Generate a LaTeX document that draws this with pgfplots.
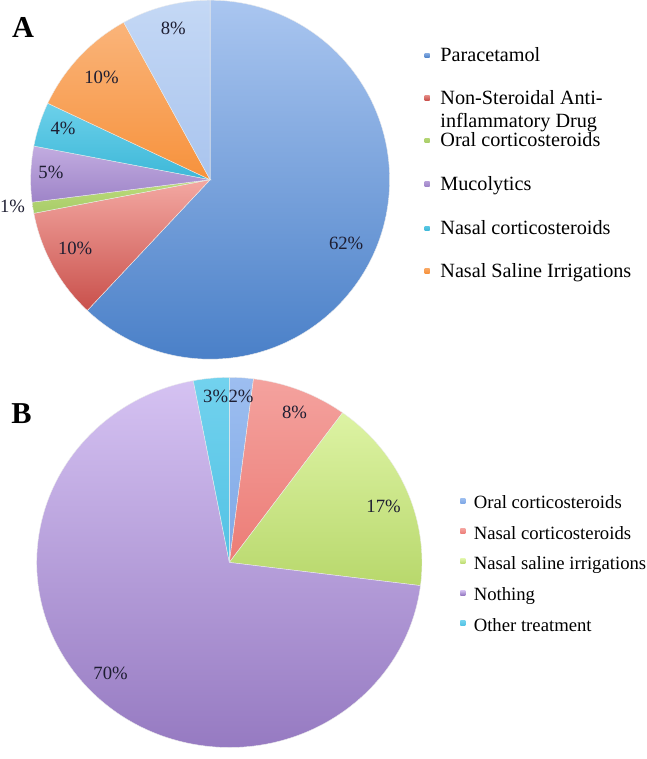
\documentclass[border=0pt]{standalone}
\usepackage{fontspec}
\setmainfont{Liberation Serif}
\usepackage{pgfplots}
\usepackage{pgfplotstable}
\pgfplotsset{compat=1.18}

% slice colours (top / bottom of the gradient)
\definecolor{aBlueT}{HTML}{AAC6F0}\definecolor{aBlueB}{HTML}{4A80C8}
\definecolor{aRedT}{HTML}{F3A8A2}\definecolor{aRedB}{HTML}{C9504B}
\definecolor{aGreenT}{HTML}{BCDC7C}\definecolor{aGreenB}{HTML}{A8CC68}
\definecolor{aPurpT}{HTML}{C2ACE0}\definecolor{aPurpB}{HTML}{9E84C8}
\definecolor{aCyanT}{HTML}{6CD0EA}\definecolor{aCyanB}{HTML}{3DB8D8}
\definecolor{aOrT}{HTML}{FAB47A}\definecolor{aOrB}{HTML}{F7923C}
\definecolor{aLbT}{HTML}{C4D8F5}\definecolor{aLbB}{HTML}{A9C4EE}
\definecolor{bBlueT}{HTML}{9DBEF0}\definecolor{bBlueB}{HTML}{7EA8E6}
\definecolor{bRedT}{HTML}{F4A29E}\definecolor{bRedB}{HTML}{EC7C76}
\definecolor{bGreenT}{HTML}{DDF3A4}\definecolor{bGreenB}{HTML}{B8D86C}
\definecolor{bPurpT}{HTML}{D5C2F2}\definecolor{bPurpB}{HTML}{9478C0}
\definecolor{bCyanT}{HTML}{72D2EE}\definecolor{bCyanB}{HTML}{52C2E4}
\definecolor{lbl}{HTML}{1E1E32}

% A: clockwise from 12 o'clock; lx ly = label position (px)
\pgfplotstableread{
value top     bottom  lx  ly
62    aBlueT  aBlueB  343 245
10    aRedT   aRedB   75  249
1     aGreenT aGreenB 13  208
5     aPurpT  aPurpB  51  174
4     aCyanT  aCyanB  63  131
10    aOrT    aOrB    101 80
8     aLbT    aLbB    172 32
}\pieA

% B
\pgfplotstableread{
value top     bottom  lx  ly
2     bBlueT  bBlueB  239 396
8     bRedT   bRedB   292 412
17    bGreenT bGreenB 380 505
70    bPurpT  bPurpB  110 670
3     bCyanT  bCyanB  214 396
}\pieB

% #1 table, #2 #3 centre, #4 #5 x/y radius
\newcommand\drawpie[5]{%
  \pgfplotstablegetrowsof{#1}%
  \pgfmathtruncatemacro\lastrow{\pgfplotsretval-1}%
  \gdef\cum{0}%
  \foreach \i in {0,...,\lastrow}{%
    \pgfplotstablegetelem{\i}{value}\of{#1}\let\v\pgfplotsretval
    \pgfplotstablegetelem{\i}{top}\of{#1}\let\ct\pgfplotsretval
    \pgfplotstablegetelem{\i}{bottom}\of{#1}\let\cb\pgfplotsretval
    \pgfmathsetmacro\sa{90-3.6*\cum}%
    \pgfmathsetmacro\ea{90-3.6*(\cum+\v)}%
    \shade[top color=\ct, bottom color=\cb, draw=white!85!gray, line width=0.4pt]
      (axis cs:#2,#3) -- ++(\sa:#4pt and #5pt)
      arc[start angle=\sa, end angle=\ea, x radius=#4pt, y radius=#5pt] -- cycle;
    \pgfmathsetmacro\newcum{\cum+\v}\xdef\cum{\newcum}%
  }%
  \foreach \i in {0,...,\lastrow}{%
    \pgfplotstablegetelem{\i}{value}\of{#1}\let\v\pgfplotsretval
    \pgfplotstablegetelem{\i}{lx}\of{#1}\let\lx\pgfplotsretval
    \pgfplotstablegetelem{\i}{ly}\of{#1}\let\ly\pgfplotsretval
    \node[text=lbl, inner sep=0pt, font=\fontsize{18.5}{20}\selectfont]
      at (axis cs:\lx,\ly) {\v\%};
  }%
}

\begin{document}
\begin{tikzpicture}
\begin{axis}[
  scale only axis,
  width=646pt, height=759pt,
  xmin=0, xmax=646, ymin=0, ymax=759,
  y dir=reverse,
  hide axis, clip=false,
]
\pgfplotsextra{%
  \drawpie{\pieA}{208.5}{181.5}{177.5}{177.5}
  \drawpie{\pieB}{227.5}{560}{190.5}{183}
  % panel letters
  \node[anchor=base, inner sep=0pt, font=\fontsize{30}{32}\selectfont\bfseries]
    at (axis cs:23.5,41) {A};
  \node[anchor=base, inner sep=0pt, font=\fontsize{30}{32}\selectfont\bfseries]
    at (axis cs:22,423) {B};
  % legend A
  \foreach \yb/\ct/\cb/\txt in {
      65/aBlueT/aBlueB/Paracetamol,
      107/aRedT/aRedB/Non-Steroidal Anti-,
      149/aGreenT/aGreenB/Oral corticosteroids,
      192/aPurpT/aPurpB/Mucolytics,
      236/aCyanT/aCyanB/Nasal corticosteroids,
      278/aOrT/aOrB/Nasal Saline Irrigations}{%
    \shade[top color=\ct!60!\cb, bottom color=\cb]
      (axis cs:420.5,\yb-8.5) rectangle (axis cs:425.5,\yb-4);
    \node[anchor=base west, inner sep=0pt, font=\fontsize{20}{22}\selectfont]
      at (axis cs:436,\yb) {\txt};
  }
  \node[anchor=base west, inner sep=0pt, font=\fontsize{20}{22}\selectfont]
    at (axis cs:436,130) {inflammatory Drug};
  % legend B
  \foreach \yb/\ct/\cb/\txt in {
      507/bBlueT/bBlueB/Oral corticosteroids,
      537/bRedT/bRedB/Nasal corticosteroids,
      567/bGreenT/bGreenB/Nasal saline irrigations,
      598/bPurpT/bPurpB/Nothing,
      628/bCyanT/bCyanB/Other treatment}{%
    \shade[top color=\ct, bottom color=\cb]
      (axis cs:456,\yb-10.5) rectangle (axis cs:461,\yb-5.5);
    \node[anchor=base west, inner sep=0pt, font=\fontsize{18.5}{20}\selectfont]
      at (axis cs:469,\yb) {\txt};
  }
}
\end{axis}
\end{tikzpicture}
\end{document}
